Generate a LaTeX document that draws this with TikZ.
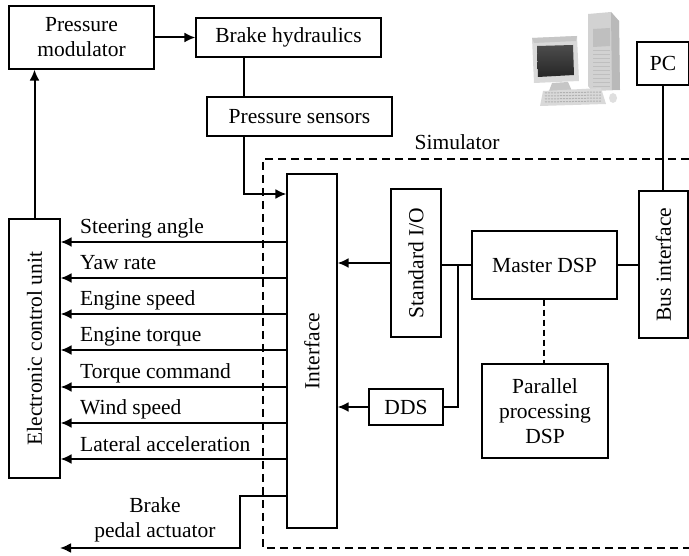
\documentclass[tikz,border=0pt]{standalone}
\usepackage{fontspec}
\usepackage{graphicx}
\setmainfont{Liberation Serif}
\usetikzlibrary{arrows.meta}
\begin{document}
\begin{tikzpicture}[x=1pt,y=-1pt,
  txt/.style={font=\fontsize{21.5}{25}\selectfont},
  box/.style={draw,line width=1.2pt,inner sep=0pt,align=center,txt},
  sig/.style={line width=2pt,-{Latex[length=11pt,width=10pt]}},
  link/.style={line width=1.2pt},
  lbl/.style={txt,inner sep=0pt}]
\useasboundingbox (0,0) rectangle (689,556);

% ---- blocks ----
\node[box,minimum width=145pt,minimum height=63pt] (pm) at (81.5,37.5) {Pressure\\modulator};
\node[box,minimum width=185pt,minimum height=39pt] (bh) at (288.5,37.5) {Brake hydraulics};
\node[box,minimum width=185pt,minimum height=39pt] (ps) at (299.5,116.5) {Pressure sensors};
\node[box,minimum width=51pt,minimum height=259pt] (ecu) at (34.5,348.5) {\rotatebox{90}{Electronic control unit}};
\node[box,minimum width=50pt,minimum height=354pt] (iface) at (312,351) {\rotatebox{90}{Interface}};
\node[box,minimum width=50pt,minimum height=148pt] (sio) at (416,263) {\rotatebox{90}{Standard I/O}};
\node[box,minimum width=145pt,minimum height=68pt] (mdsp) at (544.5,265) {Master DSP};
\node[box,minimum width=49pt,minimum height=147pt] (bus) at (663.5,264.5) {\rotatebox{90}{Bus interface}};
\node[box,minimum width=52pt,minimum height=43pt] (pc) at (663,63.5) {PC};
\node[box,minimum width=74pt,minimum height=36pt] (dds) at (406,407) {DDS};
\node[box,minimum width=126pt,minimum height=94pt] (pdsp) at (545,411) {Parallel\\processing\\DSP};

% ---- simulator boundary ----
\draw[line width=1.2pt,dash pattern=on 8pt off 5pt] (689,159) -| (263,548) -- (689,548);
\node[lbl,anchor=base] (simlbl) at (457,150) {Simulator};

% ---- hydraulics path ----
\coordinate (tap) at (244,0);
\draw[sig] (pm.east) -- (bh.west);
\draw[link] (bh.south -| tap) -- (ps.north -| tap);
\draw[sig] (ps.south -| tap) |- (iface.west |- 0,194);
\draw[sig] (ecu.north) -- (ecu.north |- pm.south);

% ---- interface outputs to the ECU ----
\foreach \yy/\tt/\nn in {242/Steering angle/sa, 278/Yaw rate/yr, 314/Engine speed/es,
    350/Engine torque/et, 387/Torque command/tc, 423/Wind speed/ws, 459/Lateral acceleration/la}{
  \draw[sig] (iface.west |- 0,\yy) -- (ecu.east |- 0,\yy);
  \node[lbl,anchor=base west] (\nn) at (80,\yy-8) {\tt};
}

% ---- brake pedal actuator ----
\coordinate (bpa) at (60,548);
\draw[sig] (iface.west |- 0,496) -- (240,496) -- (240,548) -- (bpa);
\node[lbl,align=center,anchor=north] (bpalbl) at (155,497.5) {Brake\\pedal actuator};

% ---- simulator internals ----
\draw[sig] (sio.west) -- (iface.east |- sio.west);
\draw[sig] (dds.west) -- (iface.east |- dds.west);
\coordinate (jn) at (458,265);
\draw[link] (sio.east |- jn) -- (mdsp.west |- jn);
\draw[link] (jn) |- (dds.east);
\draw[link] (mdsp.east) -- (bus.west |- mdsp.east);
\draw[link] (pc.south) -- (bus.north -| pc.south);
\draw[link,dash pattern=on 6pt off 4pt] (mdsp.south -| 544,0) -- (pdsp.north -| 544,0);

% ---- desktop computer ----
\begin{scope}
  % tower
  \fill[gray!35] (588,14) -- (611,12) -- (619,21) -- (620,90) -- (592,91) -- (588,86) -- cycle;
  \fill[gray!55] (611,12) -- (619,21) -- (620,90) -- (612,90) -- cycle;
  \fill[gray!50] (593,29) -- (610,28) -- (610,46) -- (593,47) -- cycle;
  \foreach \k in {50,54,...,86} \draw[gray!50,line width=0.5pt] (593,\k) -- (610,\k);
  % monitor
  \fill[gray!30] (532,38) -- (577,36) -- (579,81) -- (534,83) -- cycle;
  \fill[gray!45] (532,38) -- (577,36) -- (576,41) -- (534,43) -- cycle;
  \shade[top color=black!70,bottom color=black!85] (537,46) -- (573,45) -- (574,75) -- (538,77) -- cycle;
  \fill[gray!45] (552,83) -- (568,82) -- (572,91) -- (549,91) -- cycle;
  % keyboard and mouse
  \fill[gray!30] (543,91) -- (601,88) -- (606,104) -- (540,106) -- cycle;
  \foreach \k in {93,96,...,102} \draw[gray!60,line width=1pt,dash pattern=on 2pt off 1pt] (545,\k) -- (601,\k-1);
  \fill[gray!25] (613,98) ellipse [x radius=4pt,y radius=5pt];
\end{scope}
\end{tikzpicture}
\end{document}
